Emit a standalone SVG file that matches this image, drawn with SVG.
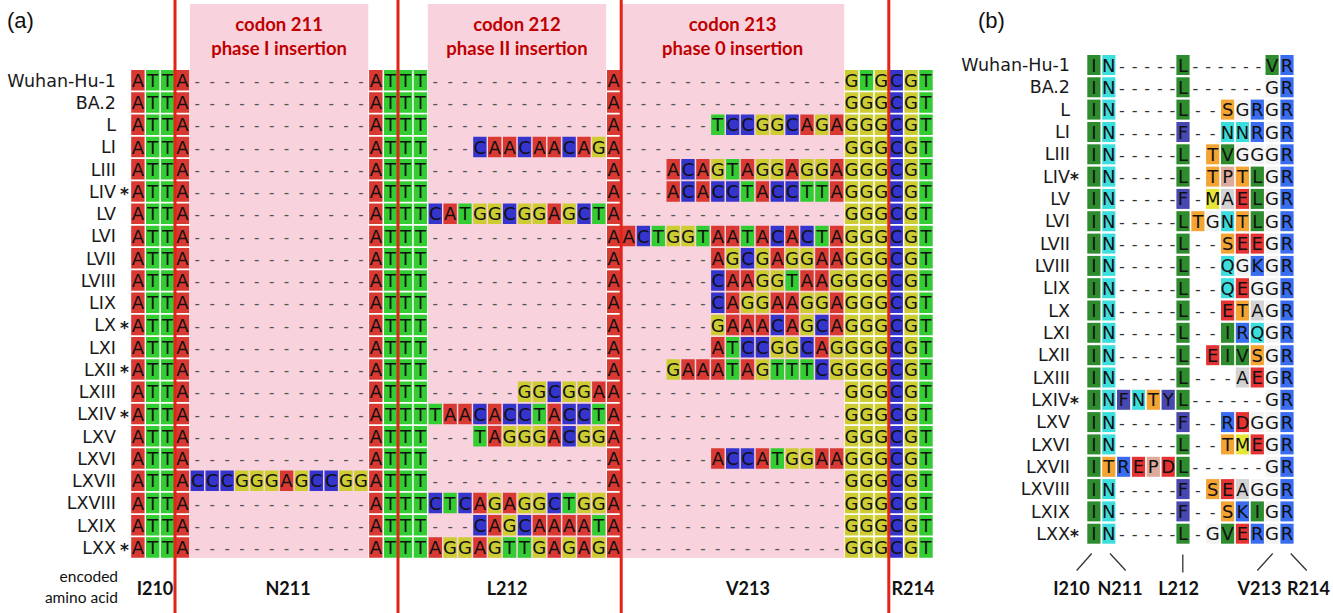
<svg xmlns="http://www.w3.org/2000/svg" xmlns:xlink="http://www.w3.org/1999/xlink" width="1333" height="613" viewBox="0 0 1333 613">
<style>
.nm{font-family:"DejaVu Sans",sans-serif;font-size:17.5px;fill:#1a1a1a;text-anchor:end}
.st{font-family:"DejaVu Sans",sans-serif;font-size:17px;font-weight:bold;fill:#1a1a1a}
.nt{font-family:"DejaVu Sans",sans-serif;font-size:18px;fill:#111;text-anchor:middle}
.gp{fill:#555;font-size:15px}
.bgp{fill:#333;font-size:16px}
.lab{font-family:Lato,"Open Sans",sans-serif;font-weight:700;font-size:18px;fill:#111;text-anchor:middle}
.cod{font-family:Lato,"Open Sans",sans-serif;font-weight:700;font-size:18.5px;fill:#c00000;text-anchor:middle}
.enc{font-family:Lato,"Open Sans",sans-serif;font-size:15.5px;fill:#111;text-anchor:end}
.pl{font-family:"Liberation Sans",Arial,sans-serif;font-size:22px;fill:#111}
.pink{fill:#f8d3de}
.red{stroke:#e2231a;stroke-width:3}
.cn{stroke:#333;stroke-width:1.3;fill:none}
</style>
<defs>
<rect id="nA" width="13.4" height="20.5" fill="#d83a33"/>
<rect id="nT" width="13.4" height="20.5" fill="#33cc33"/>
<rect id="nC" width="13.4" height="20.5" fill="#3535cc"/>
<rect id="nG" width="13.4" height="20.5" fill="#cdcd33"/>
<g id="constA">
<use href="#nA" x="131.2"/><use href="#nT" x="146.0"/><use href="#nT" x="160.9"/><use href="#nA" x="175.8"/>
<use href="#nA" x="369.1"/><use href="#nT" x="383.9"/><use href="#nT" x="398.8"/><use href="#nT" x="413.7"/>
<use href="#nA" x="607.0"/>
<use href="#nC" x="889.5"/><use href="#nG" x="904.4"/><use href="#nT" x="919.3"/>
</g>
<g id="GGG"><use href="#nG" x="844.9"/><use href="#nG" x="859.8"/><use href="#nG" x="874.7"/></g>
<rect id="p-gr" width="13.2" height="20" fill="#2e8b2e"/>
<rect id="p-cy" width="13.2" height="20" fill="#3ddddd"/>
<rect id="p-in" width="13.2" height="20" fill="#4848b0"/>
<rect id="p-or" width="13.2" height="20" fill="#f4a433"/>
<rect id="p-bl" width="13.2" height="20" fill="#3a6cf0"/>
<rect id="p-rd" width="13.2" height="20" fill="#e53333"/>
<rect id="p-pk" width="13.2" height="20" fill="#deaa9c"/>
<rect id="p-ye" width="13.2" height="20" fill="#e6e63a"/>
<rect id="p-gy" width="13.2" height="20" fill="#d3d3d3"/>
<rect id="p-wh" width="13.2" height="20" fill="#f3f3f3"/>
<g id="bBase"><use href="#p-gr" x="1087.3"/><use href="#p-cy" x="1102.2"/><use href="#p-bl" x="1280.4"/></g>
</defs>
<rect width="1333" height="613" fill="#fff"/>

<g id="panel-a-background">
<rect class="pink" x="189.9" y="4" width="178.4" height="554"/>
<rect class="pink" x="427.8" y="4" width="178.4" height="554"/>
<rect class="pink" x="621.1" y="4" width="223.1" height="554"/>
<text class="cod" x="279.1" y="31">codon 211</text>
<text class="cod" x="279.1" y="55">phase I insertion</text>
<text class="cod" x="517" y="31">codon 212</text>
<text class="cod" x="517" y="55">phase II insertion</text>
<text class="cod" x="732.6" y="31">codon 213</text>
<text class="cod" x="732.6" y="55">phase 0 insertion</text>
</g>
<text class="pl" x="7" y="28">(a)</text>
<text class="pl" x="978" y="28">(b)</text>

<g id="panel-a">
<g id="a-Wuhan-Hu-1" transform="translate(0,70)">
<text class="nm" x="116" y="16.5">Wuhan-Hu-1</text>
<use href="#constA"/><use href="#nG" x="844.9"/><use href="#nT" x="859.8"/><use href="#nG" x="874.7"/>
<text class="nt" y="16.75"><tspan x="137.8 152.7 167.6 182.5">ATTA</tspan><tspan class="gp" x="197.3 212.2 227.1 241.9 256.8 271.7 286.5 301.4 316.3 331.2 346.0 360.9">------------</tspan><tspan x="375.8 390.6 405.5 420.4">ATTT</tspan><tspan class="gp" x="435.2 450.1 465.0 479.9 494.7 509.6 524.5 539.3 554.2 569.1 583.9 598.8">------------</tspan><tspan x="613.7">A</tspan><tspan class="gp" x="628.6 643.4 658.3 673.2 688.0 702.9 717.8 732.6 747.5 762.4 777.3 792.1 807.0 821.9 836.7">---------------</tspan><tspan x="851.6 866.5 881.3 896.2 911.1 926.0">GTGCGT</tspan></text>
</g>
<g id="a-BA.2" transform="translate(0,92.25)">
<text class="nm" x="116" y="16.5">BA.2</text>
<use href="#constA"/><use href="#GGG"/>
<text class="nt" y="16.75"><tspan x="137.8 152.7 167.6 182.5">ATTA</tspan><tspan class="gp" x="197.3 212.2 227.1 241.9 256.8 271.7 286.5 301.4 316.3 331.2 346.0 360.9">------------</tspan><tspan x="375.8 390.6 405.5 420.4">ATTT</tspan><tspan class="gp" x="435.2 450.1 465.0 479.9 494.7 509.6 524.5 539.3 554.2 569.1 583.9 598.8">------------</tspan><tspan x="613.7">A</tspan><tspan class="gp" x="628.6 643.4 658.3 673.2 688.0 702.9 717.8 732.6 747.5 762.4 777.3 792.1 807.0 821.9 836.7">---------------</tspan><tspan x="851.6 866.5 881.3 896.2 911.1 926.0">GGGCGT</tspan></text>
</g>
<g id="a-L" transform="translate(0,114.5)">
<text class="nm" x="116" y="16.5">L</text>
<use href="#constA"/><use href="#GGG"/>
<use href="#nT" x="711.1"/><use href="#nC" x="726.0"/><use href="#nC" x="740.8"/><use href="#nG" x="755.7"/><use href="#nG" x="770.6"/><use href="#nC" x="785.4"/><use href="#nA" x="800.3"/><use href="#nG" x="815.2"/><use href="#nA" x="830.0"/>
<text class="nt" y="16.75"><tspan x="137.8 152.7 167.6 182.5">ATTA</tspan><tspan class="gp" x="197.3 212.2 227.1 241.9 256.8 271.7 286.5 301.4 316.3 331.2 346.0 360.9">------------</tspan><tspan x="375.8 390.6 405.5 420.4">ATTT</tspan><tspan class="gp" x="435.2 450.1 465.0 479.9 494.7 509.6 524.5 539.3 554.2 569.1 583.9 598.8">------------</tspan><tspan x="613.7">A</tspan><tspan class="gp" x="628.6 643.4 658.3 673.2 688.0 702.9">------</tspan><tspan x="717.8 732.6 747.5 762.4 777.3 792.1 807.0 821.9 836.7">TCCGGCAGA</tspan><tspan x="851.6 866.5 881.3 896.2 911.1 926.0">GGGCGT</tspan></text>
</g>
<g id="a-LI" transform="translate(0,136.75)">
<text class="nm" x="116" y="16.5">LI</text>
<use href="#constA"/><use href="#GGG"/>
<use href="#nC" x="473.2"/><use href="#nA" x="488.0"/><use href="#nA" x="502.9"/><use href="#nC" x="517.8"/><use href="#nA" x="532.6"/><use href="#nA" x="547.5"/><use href="#nC" x="562.4"/><use href="#nA" x="577.3"/><use href="#nG" x="592.1"/>
<text class="nt" y="16.75"><tspan x="137.8 152.7 167.6 182.5">ATTA</tspan><tspan class="gp" x="197.3 212.2 227.1 241.9 256.8 271.7 286.5 301.4 316.3 331.2 346.0 360.9">------------</tspan><tspan x="375.8 390.6 405.5 420.4">ATTT</tspan><tspan class="gp" x="435.2 450.1 465.0">---</tspan><tspan x="479.9 494.7 509.6 524.5 539.3 554.2 569.1 583.9 598.8">CAACAACAG</tspan><tspan x="613.7">A</tspan><tspan class="gp" x="628.6 643.4 658.3 673.2 688.0 702.9 717.8 732.6 747.5 762.4 777.3 792.1 807.0 821.9 836.7">---------------</tspan><tspan x="851.6 866.5 881.3 896.2 911.1 926.0">GGGCGT</tspan></text>
</g>
<g id="a-LIII" transform="translate(0,159)">
<text class="nm" x="116" y="16.5">LIII</text>
<use href="#constA"/><use href="#GGG"/>
<use href="#nA" x="666.5"/><use href="#nC" x="681.3"/><use href="#nA" x="696.2"/><use href="#nG" x="711.1"/><use href="#nT" x="726.0"/><use href="#nA" x="740.8"/><use href="#nG" x="755.7"/><use href="#nG" x="770.6"/><use href="#nA" x="785.4"/><use href="#nG" x="800.3"/><use href="#nG" x="815.2"/><use href="#nA" x="830.0"/>
<text class="nt" y="16.75"><tspan x="137.8 152.7 167.6 182.5">ATTA</tspan><tspan class="gp" x="197.3 212.2 227.1 241.9 256.8 271.7 286.5 301.4 316.3 331.2 346.0 360.9">------------</tspan><tspan x="375.8 390.6 405.5 420.4">ATTT</tspan><tspan class="gp" x="435.2 450.1 465.0 479.9 494.7 509.6 524.5 539.3 554.2 569.1 583.9 598.8">------------</tspan><tspan x="613.7">A</tspan><tspan class="gp" x="628.6 643.4 658.3">---</tspan><tspan x="673.2 688.0 702.9 717.8 732.6 747.5 762.4 777.3 792.1 807.0 821.9 836.7">ACAGTAGGAGGA</tspan><tspan x="851.6 866.5 881.3 896.2 911.1 926.0">GGGCGT</tspan></text>
</g>
<g id="a-LIV" transform="translate(0,181.25)">
<text class="nm" x="116" y="16.5">LIV</text><text class="st" x="120" y="19">*</text>
<use href="#constA"/><use href="#GGG"/>
<use href="#nA" x="666.5"/><use href="#nC" x="681.3"/><use href="#nA" x="696.2"/><use href="#nC" x="711.1"/><use href="#nC" x="726.0"/><use href="#nT" x="740.8"/><use href="#nA" x="755.7"/><use href="#nC" x="770.6"/><use href="#nC" x="785.4"/><use href="#nT" x="800.3"/><use href="#nT" x="815.2"/><use href="#nA" x="830.0"/>
<text class="nt" y="16.75"><tspan x="137.8 152.7 167.6 182.5">ATTA</tspan><tspan class="gp" x="197.3 212.2 227.1 241.9 256.8 271.7 286.5 301.4 316.3 331.2 346.0 360.9">------------</tspan><tspan x="375.8 390.6 405.5 420.4">ATTT</tspan><tspan class="gp" x="435.2 450.1 465.0 479.9 494.7 509.6 524.5 539.3 554.2 569.1 583.9 598.8">------------</tspan><tspan x="613.7">A</tspan><tspan class="gp" x="628.6 643.4 658.3">---</tspan><tspan x="673.2 688.0 702.9 717.8 732.6 747.5 762.4 777.3 792.1 807.0 821.9 836.7">ACACCTACCTTA</tspan><tspan x="851.6 866.5 881.3 896.2 911.1 926.0">GGGCGT</tspan></text>
</g>
<g id="a-LV" transform="translate(0,203.5)">
<text class="nm" x="116" y="16.5">LV</text>
<use href="#constA"/><use href="#GGG"/>
<use href="#nC" x="428.6"/><use href="#nA" x="443.4"/><use href="#nT" x="458.3"/><use href="#nG" x="473.2"/><use href="#nG" x="488.0"/><use href="#nC" x="502.9"/><use href="#nG" x="517.8"/><use href="#nG" x="532.6"/><use href="#nA" x="547.5"/><use href="#nG" x="562.4"/><use href="#nC" x="577.3"/><use href="#nT" x="592.1"/>
<text class="nt" y="16.75"><tspan x="137.8 152.7 167.6 182.5">ATTA</tspan><tspan class="gp" x="197.3 212.2 227.1 241.9 256.8 271.7 286.5 301.4 316.3 331.2 346.0 360.9">------------</tspan><tspan x="375.8 390.6 405.5 420.4">ATTT</tspan><tspan x="435.2 450.1 465.0 479.9 494.7 509.6 524.5 539.3 554.2 569.1 583.9 598.8">CATGGCGGAGCT</tspan><tspan x="613.7">A</tspan><tspan class="gp" x="628.6 643.4 658.3 673.2 688.0 702.9 717.8 732.6 747.5 762.4 777.3 792.1 807.0 821.9 836.7">---------------</tspan><tspan x="851.6 866.5 881.3 896.2 911.1 926.0">GGGCGT</tspan></text>
</g>
<g id="a-LVI" transform="translate(0,225.75)">
<text class="nm" x="116" y="16.5">LVI</text>
<use href="#constA"/><use href="#GGG"/>
<use href="#nA" x="621.9"/><use href="#nC" x="636.7"/><use href="#nT" x="651.6"/><use href="#nG" x="666.5"/><use href="#nG" x="681.3"/><use href="#nT" x="696.2"/><use href="#nA" x="711.1"/><use href="#nA" x="726.0"/><use href="#nT" x="740.8"/><use href="#nA" x="755.7"/><use href="#nC" x="770.6"/><use href="#nA" x="785.4"/><use href="#nC" x="800.3"/><use href="#nT" x="815.2"/><use href="#nA" x="830.0"/>
<text class="nt" y="16.75"><tspan x="137.8 152.7 167.6 182.5">ATTA</tspan><tspan class="gp" x="197.3 212.2 227.1 241.9 256.8 271.7 286.5 301.4 316.3 331.2 346.0 360.9">------------</tspan><tspan x="375.8 390.6 405.5 420.4">ATTT</tspan><tspan class="gp" x="435.2 450.1 465.0 479.9 494.7 509.6 524.5 539.3 554.2 569.1 583.9 598.8">------------</tspan><tspan x="613.7">A</tspan><tspan x="628.6 643.4 658.3 673.2 688.0 702.9 717.8 732.6 747.5 762.4 777.3 792.1 807.0 821.9 836.7">ACTGGTAATACACTA</tspan><tspan x="851.6 866.5 881.3 896.2 911.1 926.0">GGGCGT</tspan></text>
</g>
<g id="a-LVII" transform="translate(0,248)">
<text class="nm" x="116" y="16.5">LVII</text>
<use href="#constA"/><use href="#GGG"/>
<use href="#nA" x="711.1"/><use href="#nG" x="726.0"/><use href="#nC" x="740.8"/><use href="#nG" x="755.7"/><use href="#nA" x="770.6"/><use href="#nG" x="785.4"/><use href="#nG" x="800.3"/><use href="#nA" x="815.2"/><use href="#nA" x="830.0"/>
<text class="nt" y="16.75"><tspan x="137.8 152.7 167.6 182.5">ATTA</tspan><tspan class="gp" x="197.3 212.2 227.1 241.9 256.8 271.7 286.5 301.4 316.3 331.2 346.0 360.9">------------</tspan><tspan x="375.8 390.6 405.5 420.4">ATTT</tspan><tspan class="gp" x="435.2 450.1 465.0 479.9 494.7 509.6 524.5 539.3 554.2 569.1 583.9 598.8">------------</tspan><tspan x="613.7">A</tspan><tspan class="gp" x="628.6 643.4 658.3 673.2 688.0 702.9">------</tspan><tspan x="717.8 732.6 747.5 762.4 777.3 792.1 807.0 821.9 836.7">AGCGAGGAA</tspan><tspan x="851.6 866.5 881.3 896.2 911.1 926.0">GGGCGT</tspan></text>
</g>
<g id="a-LVIII" transform="translate(0,270.25)">
<text class="nm" x="116" y="16.5">LVIII</text>
<use href="#constA"/><use href="#GGG"/>
<use href="#nC" x="711.1"/><use href="#nA" x="726.0"/><use href="#nA" x="740.8"/><use href="#nG" x="755.7"/><use href="#nG" x="770.6"/><use href="#nT" x="785.4"/><use href="#nA" x="800.3"/><use href="#nA" x="815.2"/><use href="#nG" x="830.0"/>
<text class="nt" y="16.75"><tspan x="137.8 152.7 167.6 182.5">ATTA</tspan><tspan class="gp" x="197.3 212.2 227.1 241.9 256.8 271.7 286.5 301.4 316.3 331.2 346.0 360.9">------------</tspan><tspan x="375.8 390.6 405.5 420.4">ATTT</tspan><tspan class="gp" x="435.2 450.1 465.0 479.9 494.7 509.6 524.5 539.3 554.2 569.1 583.9 598.8">------------</tspan><tspan x="613.7">A</tspan><tspan class="gp" x="628.6 643.4 658.3 673.2 688.0 702.9">------</tspan><tspan x="717.8 732.6 747.5 762.4 777.3 792.1 807.0 821.9 836.7">CAAGGTAAG</tspan><tspan x="851.6 866.5 881.3 896.2 911.1 926.0">GGGCGT</tspan></text>
</g>
<g id="a-LIX" transform="translate(0,292.5)">
<text class="nm" x="116" y="16.5">LIX</text>
<use href="#constA"/><use href="#GGG"/>
<use href="#nC" x="711.1"/><use href="#nA" x="726.0"/><use href="#nG" x="740.8"/><use href="#nG" x="755.7"/><use href="#nA" x="770.6"/><use href="#nA" x="785.4"/><use href="#nG" x="800.3"/><use href="#nG" x="815.2"/><use href="#nA" x="830.0"/>
<text class="nt" y="16.75"><tspan x="137.8 152.7 167.6 182.5">ATTA</tspan><tspan class="gp" x="197.3 212.2 227.1 241.9 256.8 271.7 286.5 301.4 316.3 331.2 346.0 360.9">------------</tspan><tspan x="375.8 390.6 405.5 420.4">ATTT</tspan><tspan class="gp" x="435.2 450.1 465.0 479.9 494.7 509.6 524.5 539.3 554.2 569.1 583.9 598.8">------------</tspan><tspan x="613.7">A</tspan><tspan class="gp" x="628.6 643.4 658.3 673.2 688.0 702.9">------</tspan><tspan x="717.8 732.6 747.5 762.4 777.3 792.1 807.0 821.9 836.7">CAGGAAGGA</tspan><tspan x="851.6 866.5 881.3 896.2 911.1 926.0">GGGCGT</tspan></text>
</g>
<g id="a-LX" transform="translate(0,314.75)">
<text class="nm" x="116" y="16.5">LX</text><text class="st" x="120" y="19">*</text>
<use href="#constA"/><use href="#GGG"/>
<use href="#nG" x="711.1"/><use href="#nA" x="726.0"/><use href="#nA" x="740.8"/><use href="#nA" x="755.7"/><use href="#nC" x="770.6"/><use href="#nA" x="785.4"/><use href="#nG" x="800.3"/><use href="#nC" x="815.2"/><use href="#nA" x="830.0"/>
<text class="nt" y="16.75"><tspan x="137.8 152.7 167.6 182.5">ATTA</tspan><tspan class="gp" x="197.3 212.2 227.1 241.9 256.8 271.7 286.5 301.4 316.3 331.2 346.0 360.9">------------</tspan><tspan x="375.8 390.6 405.5 420.4">ATTT</tspan><tspan class="gp" x="435.2 450.1 465.0 479.9 494.7 509.6 524.5 539.3 554.2 569.1 583.9 598.8">------------</tspan><tspan x="613.7">A</tspan><tspan class="gp" x="628.6 643.4 658.3 673.2 688.0 702.9">------</tspan><tspan x="717.8 732.6 747.5 762.4 777.3 792.1 807.0 821.9 836.7">GAAACAGCA</tspan><tspan x="851.6 866.5 881.3 896.2 911.1 926.0">GGGCGT</tspan></text>
</g>
<g id="a-LXI" transform="translate(0,337)">
<text class="nm" x="116" y="16.5">LXI</text>
<use href="#constA"/><use href="#GGG"/>
<use href="#nA" x="711.1"/><use href="#nT" x="726.0"/><use href="#nC" x="740.8"/><use href="#nC" x="755.7"/><use href="#nG" x="770.6"/><use href="#nG" x="785.4"/><use href="#nC" x="800.3"/><use href="#nA" x="815.2"/><use href="#nG" x="830.0"/>
<text class="nt" y="16.75"><tspan x="137.8 152.7 167.6 182.5">ATTA</tspan><tspan class="gp" x="197.3 212.2 227.1 241.9 256.8 271.7 286.5 301.4 316.3 331.2 346.0 360.9">------------</tspan><tspan x="375.8 390.6 405.5 420.4">ATTT</tspan><tspan class="gp" x="435.2 450.1 465.0 479.9 494.7 509.6 524.5 539.3 554.2 569.1 583.9 598.8">------------</tspan><tspan x="613.7">A</tspan><tspan class="gp" x="628.6 643.4 658.3 673.2 688.0 702.9">------</tspan><tspan x="717.8 732.6 747.5 762.4 777.3 792.1 807.0 821.9 836.7">ATCCGGCAG</tspan><tspan x="851.6 866.5 881.3 896.2 911.1 926.0">GGGCGT</tspan></text>
</g>
<g id="a-LXII" transform="translate(0,359.25)">
<text class="nm" x="116" y="16.5">LXII</text><text class="st" x="120" y="19">*</text>
<use href="#constA"/><use href="#GGG"/>
<use href="#nG" x="666.5"/><use href="#nA" x="681.3"/><use href="#nA" x="696.2"/><use href="#nA" x="711.1"/><use href="#nT" x="726.0"/><use href="#nA" x="740.8"/><use href="#nG" x="755.7"/><use href="#nT" x="770.6"/><use href="#nT" x="785.4"/><use href="#nT" x="800.3"/><use href="#nC" x="815.2"/><use href="#nG" x="830.0"/>
<text class="nt" y="16.75"><tspan x="137.8 152.7 167.6 182.5">ATTA</tspan><tspan class="gp" x="197.3 212.2 227.1 241.9 256.8 271.7 286.5 301.4 316.3 331.2 346.0 360.9">------------</tspan><tspan x="375.8 390.6 405.5 420.4">ATTT</tspan><tspan class="gp" x="435.2 450.1 465.0 479.9 494.7 509.6 524.5 539.3 554.2 569.1 583.9 598.8">------------</tspan><tspan x="613.7">A</tspan><tspan class="gp" x="628.6 643.4 658.3">---</tspan><tspan x="673.2 688.0 702.9 717.8 732.6 747.5 762.4 777.3 792.1 807.0 821.9 836.7">GAAATAGTTTCG</tspan><tspan x="851.6 866.5 881.3 896.2 911.1 926.0">GGGCGT</tspan></text>
</g>
<g id="a-LXIII" transform="translate(0,381.5)">
<text class="nm" x="116" y="16.5">LXIII</text>
<use href="#constA"/><use href="#GGG"/>
<use href="#nG" x="517.8"/><use href="#nG" x="532.6"/><use href="#nC" x="547.5"/><use href="#nG" x="562.4"/><use href="#nG" x="577.3"/><use href="#nA" x="592.1"/>
<text class="nt" y="16.75"><tspan x="137.8 152.7 167.6 182.5">ATTA</tspan><tspan class="gp" x="197.3 212.2 227.1 241.9 256.8 271.7 286.5 301.4 316.3 331.2 346.0 360.9">------------</tspan><tspan x="375.8 390.6 405.5 420.4">ATTT</tspan><tspan class="gp" x="435.2 450.1 465.0 479.9 494.7 509.6">------</tspan><tspan x="524.5 539.3 554.2 569.1 583.9 598.8">GGCGGA</tspan><tspan x="613.7">A</tspan><tspan class="gp" x="628.6 643.4 658.3 673.2 688.0 702.9 717.8 732.6 747.5 762.4 777.3 792.1 807.0 821.9 836.7">---------------</tspan><tspan x="851.6 866.5 881.3 896.2 911.1 926.0">GGGCGT</tspan></text>
</g>
<g id="a-LXIV" transform="translate(0,403.75)">
<text class="nm" x="116" y="16.5">LXIV</text><text class="st" x="120" y="19">*</text>
<use href="#constA"/><use href="#GGG"/>
<use href="#nT" x="428.6"/><use href="#nA" x="443.4"/><use href="#nA" x="458.3"/><use href="#nC" x="473.2"/><use href="#nA" x="488.0"/><use href="#nC" x="502.9"/><use href="#nC" x="517.8"/><use href="#nT" x="532.6"/><use href="#nA" x="547.5"/><use href="#nC" x="562.4"/><use href="#nC" x="577.3"/><use href="#nT" x="592.1"/>
<text class="nt" y="16.75"><tspan x="137.8 152.7 167.6 182.5">ATTA</tspan><tspan class="gp" x="197.3 212.2 227.1 241.9 256.8 271.7 286.5 301.4 316.3 331.2 346.0 360.9">------------</tspan><tspan x="375.8 390.6 405.5 420.4">ATTT</tspan><tspan x="435.2 450.1 465.0 479.9 494.7 509.6 524.5 539.3 554.2 569.1 583.9 598.8">TAACACCTACCT</tspan><tspan x="613.7">A</tspan><tspan class="gp" x="628.6 643.4 658.3 673.2 688.0 702.9 717.8 732.6 747.5 762.4 777.3 792.1 807.0 821.9 836.7">---------------</tspan><tspan x="851.6 866.5 881.3 896.2 911.1 926.0">GGGCGT</tspan></text>
</g>
<g id="a-LXV" transform="translate(0,426)">
<text class="nm" x="116" y="16.5">LXV</text>
<use href="#constA"/><use href="#GGG"/>
<use href="#nT" x="473.2"/><use href="#nA" x="488.0"/><use href="#nG" x="502.9"/><use href="#nG" x="517.8"/><use href="#nG" x="532.6"/><use href="#nA" x="547.5"/><use href="#nC" x="562.4"/><use href="#nG" x="577.3"/><use href="#nG" x="592.1"/>
<text class="nt" y="16.75"><tspan x="137.8 152.7 167.6 182.5">ATTA</tspan><tspan class="gp" x="197.3 212.2 227.1 241.9 256.8 271.7 286.5 301.4 316.3 331.2 346.0 360.9">------------</tspan><tspan x="375.8 390.6 405.5 420.4">ATTT</tspan><tspan class="gp" x="435.2 450.1 465.0">---</tspan><tspan x="479.9 494.7 509.6 524.5 539.3 554.2 569.1 583.9 598.8">TAGGGACGG</tspan><tspan x="613.7">A</tspan><tspan class="gp" x="628.6 643.4 658.3 673.2 688.0 702.9 717.8 732.6 747.5 762.4 777.3 792.1 807.0 821.9 836.7">---------------</tspan><tspan x="851.6 866.5 881.3 896.2 911.1 926.0">GGGCGT</tspan></text>
</g>
<g id="a-LXVI" transform="translate(0,448.25)">
<text class="nm" x="116" y="16.5">LXVI</text>
<use href="#constA"/><use href="#GGG"/>
<use href="#nA" x="711.1"/><use href="#nC" x="726.0"/><use href="#nC" x="740.8"/><use href="#nA" x="755.7"/><use href="#nT" x="770.6"/><use href="#nG" x="785.4"/><use href="#nG" x="800.3"/><use href="#nA" x="815.2"/><use href="#nA" x="830.0"/>
<text class="nt" y="16.75"><tspan x="137.8 152.7 167.6 182.5">ATTA</tspan><tspan class="gp" x="197.3 212.2 227.1 241.9 256.8 271.7 286.5 301.4 316.3 331.2 346.0 360.9">------------</tspan><tspan x="375.8 390.6 405.5 420.4">ATTT</tspan><tspan class="gp" x="435.2 450.1 465.0 479.9 494.7 509.6 524.5 539.3 554.2 569.1 583.9 598.8">------------</tspan><tspan x="613.7">A</tspan><tspan class="gp" x="628.6 643.4 658.3 673.2 688.0 702.9">------</tspan><tspan x="717.8 732.6 747.5 762.4 777.3 792.1 807.0 821.9 836.7">ACCATGGAA</tspan><tspan x="851.6 866.5 881.3 896.2 911.1 926.0">GGGCGT</tspan></text>
</g>
<g id="a-LXVII" transform="translate(0,470.5)">
<text class="nm" x="116" y="16.5">LXVII</text>
<use href="#constA"/><use href="#GGG"/>
<use href="#nC" x="190.6"/><use href="#nC" x="205.5"/><use href="#nC" x="220.4"/><use href="#nG" x="235.2"/><use href="#nG" x="250.1"/><use href="#nG" x="265.0"/><use href="#nA" x="279.9"/><use href="#nG" x="294.7"/><use href="#nC" x="309.6"/><use href="#nC" x="324.5"/><use href="#nG" x="339.3"/><use href="#nG" x="354.2"/>
<text class="nt" y="16.75"><tspan x="137.8 152.7 167.6 182.5">ATTA</tspan><tspan x="197.3 212.2 227.1 241.9 256.8 271.7 286.5 301.4 316.3 331.2 346.0 360.9">CCCGGGAGCCGG</tspan><tspan x="375.8 390.6 405.5 420.4">ATTT</tspan><tspan class="gp" x="435.2 450.1 465.0 479.9 494.7 509.6 524.5 539.3 554.2 569.1 583.9 598.8">------------</tspan><tspan x="613.7">A</tspan><tspan class="gp" x="628.6 643.4 658.3 673.2 688.0 702.9 717.8 732.6 747.5 762.4 777.3 792.1 807.0 821.9 836.7">---------------</tspan><tspan x="851.6 866.5 881.3 896.2 911.1 926.0">GGGCGT</tspan></text>
</g>
<g id="a-LXVIII" transform="translate(0,492.75)">
<text class="nm" x="116" y="16.5">LXVIII</text>
<use href="#constA"/><use href="#GGG"/>
<use href="#nC" x="428.6"/><use href="#nT" x="443.4"/><use href="#nC" x="458.3"/><use href="#nA" x="473.2"/><use href="#nG" x="488.0"/><use href="#nA" x="502.9"/><use href="#nG" x="517.8"/><use href="#nG" x="532.6"/><use href="#nC" x="547.5"/><use href="#nT" x="562.4"/><use href="#nG" x="577.3"/><use href="#nG" x="592.1"/>
<text class="nt" y="16.75"><tspan x="137.8 152.7 167.6 182.5">ATTA</tspan><tspan class="gp" x="197.3 212.2 227.1 241.9 256.8 271.7 286.5 301.4 316.3 331.2 346.0 360.9">------------</tspan><tspan x="375.8 390.6 405.5 420.4">ATTT</tspan><tspan x="435.2 450.1 465.0 479.9 494.7 509.6 524.5 539.3 554.2 569.1 583.9 598.8">CTCAGAGGCTGG</tspan><tspan x="613.7">A</tspan><tspan class="gp" x="628.6 643.4 658.3 673.2 688.0 702.9 717.8 732.6 747.5 762.4 777.3 792.1 807.0 821.9 836.7">---------------</tspan><tspan x="851.6 866.5 881.3 896.2 911.1 926.0">GGGCGT</tspan></text>
</g>
<g id="a-LXIX" transform="translate(0,515)">
<text class="nm" x="116" y="16.5">LXIX</text>
<use href="#constA"/><use href="#GGG"/>
<use href="#nC" x="473.2"/><use href="#nA" x="488.0"/><use href="#nG" x="502.9"/><use href="#nC" x="517.8"/><use href="#nA" x="532.6"/><use href="#nA" x="547.5"/><use href="#nA" x="562.4"/><use href="#nA" x="577.3"/><use href="#nT" x="592.1"/>
<text class="nt" y="16.75"><tspan x="137.8 152.7 167.6 182.5">ATTA</tspan><tspan class="gp" x="197.3 212.2 227.1 241.9 256.8 271.7 286.5 301.4 316.3 331.2 346.0 360.9">------------</tspan><tspan x="375.8 390.6 405.5 420.4">ATTT</tspan><tspan class="gp" x="435.2 450.1 465.0">---</tspan><tspan x="479.9 494.7 509.6 524.5 539.3 554.2 569.1 583.9 598.8">CAGCAAAAT</tspan><tspan x="613.7">A</tspan><tspan class="gp" x="628.6 643.4 658.3 673.2 688.0 702.9 717.8 732.6 747.5 762.4 777.3 792.1 807.0 821.9 836.7">---------------</tspan><tspan x="851.6 866.5 881.3 896.2 911.1 926.0">GGGCGT</tspan></text>
</g>
<g id="a-LXX" transform="translate(0,537.25)">
<text class="nm" x="116" y="16.5">LXX</text><text class="st" x="120" y="19">*</text>
<use href="#constA"/><use href="#GGG"/>
<use href="#nA" x="428.6"/><use href="#nG" x="443.4"/><use href="#nG" x="458.3"/><use href="#nA" x="473.2"/><use href="#nG" x="488.0"/><use href="#nT" x="502.9"/><use href="#nT" x="517.8"/><use href="#nG" x="532.6"/><use href="#nA" x="547.5"/><use href="#nG" x="562.4"/><use href="#nA" x="577.3"/><use href="#nG" x="592.1"/>
<text class="nt" y="16.75"><tspan x="137.8 152.7 167.6 182.5">ATTA</tspan><tspan class="gp" x="197.3 212.2 227.1 241.9 256.8 271.7 286.5 301.4 316.3 331.2 346.0 360.9">------------</tspan><tspan x="375.8 390.6 405.5 420.4">ATTT</tspan><tspan x="435.2 450.1 465.0 479.9 494.7 509.6 524.5 539.3 554.2 569.1 583.9 598.8">AGGAGTTGAGAG</tspan><tspan x="613.7">A</tspan><tspan class="gp" x="628.6 643.4 658.3 673.2 688.0 702.9 717.8 732.6 747.5 762.4 777.3 792.1 807.0 821.9 836.7">---------------</tspan><tspan x="851.6 866.5 881.3 896.2 911.1 926.0">GGGCGT</tspan></text>
</g>
</g>

<g id="codon-boundaries">
<line class="red" x1="175" y1="0" x2="175" y2="613"/>
<line class="red" x1="398" y1="0" x2="398" y2="613"/>
<line class="red" x1="621.2" y1="0" x2="621.2" y2="613"/>
<line class="red" x1="888.8" y1="0" x2="888.8" y2="613"/>
</g>

<g id="a-axis">
<text class="enc" x="118" y="582">encoded</text>
<text class="enc" x="118" y="603">amino acid</text>
<text class="lab" x="155" y="595">I210</text>
<text class="lab" x="288" y="595">N211</text>
<text class="lab" x="507" y="595">L212</text>
<text class="lab" x="748" y="595">V213</text>
<text class="lab" x="913" y="595">R214</text>
</g>

<g id="panel-b">
<g id="b-Wuhan-Hu-1" transform="translate(0,55)">
<text class="nm" x="1070" y="16.2">Wuhan-Hu-1</text>
<use href="#bBase"/><use href="#p-gr" x="1176.4"/><use href="#p-gr" x="1265.5"/>
<text class="nt" y="16.5"><tspan x="1093.9 1108.8">IN</tspan><tspan class="bgp" x="1122 1134.6 1147.2 1159.8 1172.4">-----</tspan><tspan x="1183.0">L</tspan><tspan class="bgp" x="1195.5 1208.1 1220.7 1233.3 1245.9 1258.5">------</tspan><tspan x="1272.1 1287.0">VR</tspan></text>
</g>
<g id="b-BA.2" transform="translate(0,77.3)">
<text class="nm" x="1070" y="16.2">BA.2</text>
<use href="#bBase"/><use href="#p-gr" x="1176.4"/><use href="#p-wh" x="1265.5"/>
<text class="nt" y="16.5"><tspan x="1093.9 1108.8">IN</tspan><tspan class="bgp" x="1122 1134.6 1147.2 1159.8 1172.4">-----</tspan><tspan x="1183.0">L</tspan><tspan class="bgp" x="1195.5 1208.1 1220.7 1233.3 1245.9 1258.5">------</tspan><tspan x="1272.1 1287.0">GR</tspan></text>
</g>
<g id="b-L" transform="translate(0,99.6)">
<text class="nm" x="1070" y="16.2">L</text>
<use href="#bBase"/><use href="#p-gr" x="1176.4"/><use href="#p-or" x="1221.0"/><use href="#p-wh" x="1235.8"/><use href="#p-bl" x="1250.7"/><use href="#p-wh" x="1265.5"/>
<text class="nt" y="16.5"><tspan x="1093.9 1108.8">IN</tspan><tspan class="bgp" x="1122 1134.6 1147.2 1159.8 1172.4">-----</tspan><tspan x="1183.0">L</tspan><tspan class="bgp" x="1197.9 1212.7">--</tspan><tspan x="1227.6 1242.4 1257.3 1272.1 1287.0">SGRGR</tspan></text>
</g>
<g id="b-LI" transform="translate(0,122)">
<text class="nm" x="1070" y="16.2">LI</text>
<use href="#bBase"/><use href="#p-in" x="1176.4"/><use href="#p-cy" x="1221.0"/><use href="#p-cy" x="1235.8"/><use href="#p-bl" x="1250.7"/><use href="#p-wh" x="1265.5"/>
<text class="nt" y="16.5"><tspan x="1093.9 1108.8">IN</tspan><tspan class="bgp" x="1122 1134.6 1147.2 1159.8 1172.4">-----</tspan><tspan x="1183.0">F</tspan><tspan class="bgp" x="1197.9 1212.7">--</tspan><tspan x="1227.6 1242.4 1257.3 1272.1 1287.0">NNRGR</tspan></text>
</g>
<g id="b-LIII" transform="translate(0,144.3)">
<text class="nm" x="1070" y="16.2">LIII</text>
<use href="#bBase"/><use href="#p-gr" x="1176.4"/><use href="#p-or" x="1206.1"/><use href="#p-gr" x="1221.0"/><use href="#p-wh" x="1235.8"/><use href="#p-wh" x="1250.7"/><use href="#p-wh" x="1265.5"/>
<text class="nt" y="16.5"><tspan x="1093.9 1108.8">IN</tspan><tspan class="bgp" x="1122 1134.6 1147.2 1159.8 1172.4">-----</tspan><tspan x="1183.0">L</tspan><tspan class="bgp" x="1197.9">-</tspan><tspan x="1212.7 1227.6 1242.4 1257.3 1272.1 1287.0">TVGGGR</tspan></text>
</g>
<g id="b-LIV" transform="translate(0,166.6)">
<text class="nm" x="1070" y="16.2">LIV</text><text class="st" x="1070" y="18.8">*</text>
<use href="#bBase"/><use href="#p-gr" x="1176.4"/><use href="#p-or" x="1206.1"/><use href="#p-pk" x="1221.0"/><use href="#p-or" x="1235.8"/><use href="#p-gr" x="1250.7"/><use href="#p-wh" x="1265.5"/>
<text class="nt" y="16.5"><tspan x="1093.9 1108.8">IN</tspan><tspan class="bgp" x="1122 1134.6 1147.2 1159.8 1172.4">-----</tspan><tspan x="1183.0">L</tspan><tspan class="bgp" x="1197.9">-</tspan><tspan x="1212.7 1227.6 1242.4 1257.3 1272.1 1287.0">TPTLGR</tspan></text>
</g>
<g id="b-LV" transform="translate(0,188.9)">
<text class="nm" x="1070" y="16.2">LV</text>
<use href="#bBase"/><use href="#p-in" x="1176.4"/><use href="#p-ye" x="1206.1"/><use href="#p-gy" x="1221.0"/><use href="#p-rd" x="1235.8"/><use href="#p-gr" x="1250.7"/><use href="#p-wh" x="1265.5"/>
<text class="nt" y="16.5"><tspan x="1093.9 1108.8">IN</tspan><tspan class="bgp" x="1122 1134.6 1147.2 1159.8 1172.4">-----</tspan><tspan x="1183.0">F</tspan><tspan class="bgp" x="1197.9">-</tspan><tspan x="1212.7 1227.6 1242.4 1257.3 1272.1 1287.0">MAELGR</tspan></text>
</g>
<g id="b-LVI" transform="translate(0,211.2)">
<text class="nm" x="1070" y="16.2">LVI</text>
<use href="#bBase"/><use href="#p-gr" x="1176.4"/><use href="#p-or" x="1191.3"/><use href="#p-wh" x="1206.1"/><use href="#p-cy" x="1221.0"/><use href="#p-or" x="1235.8"/><use href="#p-gr" x="1250.7"/><use href="#p-wh" x="1265.5"/>
<text class="nt" y="16.5"><tspan x="1093.9 1108.8">IN</tspan><tspan class="bgp" x="1122 1134.6 1147.2 1159.8 1172.4">-----</tspan><tspan x="1183.0 1197.9 1212.7 1227.6 1242.4 1257.3 1272.1 1287.0">LTGNTLGR</tspan></text>
</g>
<g id="b-LVII" transform="translate(0,233.6)">
<text class="nm" x="1070" y="16.2">LVII</text>
<use href="#bBase"/><use href="#p-gr" x="1176.4"/><use href="#p-or" x="1221.0"/><use href="#p-rd" x="1235.8"/><use href="#p-rd" x="1250.7"/><use href="#p-wh" x="1265.5"/>
<text class="nt" y="16.5"><tspan x="1093.9 1108.8">IN</tspan><tspan class="bgp" x="1122 1134.6 1147.2 1159.8 1172.4">-----</tspan><tspan x="1183.0">L</tspan><tspan class="bgp" x="1197.9 1212.7">--</tspan><tspan x="1227.6 1242.4 1257.3 1272.1 1287.0">SEEGR</tspan></text>
</g>
<g id="b-LVIII" transform="translate(0,255.9)">
<text class="nm" x="1070" y="16.2">LVIII</text>
<use href="#bBase"/><use href="#p-gr" x="1176.4"/><use href="#p-cy" x="1221.0"/><use href="#p-wh" x="1235.8"/><use href="#p-bl" x="1250.7"/><use href="#p-wh" x="1265.5"/>
<text class="nt" y="16.5"><tspan x="1093.9 1108.8">IN</tspan><tspan class="bgp" x="1122 1134.6 1147.2 1159.8 1172.4">-----</tspan><tspan x="1183.0">L</tspan><tspan class="bgp" x="1197.9 1212.7">--</tspan><tspan x="1227.6 1242.4 1257.3 1272.1 1287.0">QGKGR</tspan></text>
</g>
<g id="b-LIX" transform="translate(0,278.2)">
<text class="nm" x="1070" y="16.2">LIX</text>
<use href="#bBase"/><use href="#p-gr" x="1176.4"/><use href="#p-cy" x="1221.0"/><use href="#p-rd" x="1235.8"/><use href="#p-wh" x="1250.7"/><use href="#p-wh" x="1265.5"/>
<text class="nt" y="16.5"><tspan x="1093.9 1108.8">IN</tspan><tspan class="bgp" x="1122 1134.6 1147.2 1159.8 1172.4">-----</tspan><tspan x="1183.0">L</tspan><tspan class="bgp" x="1197.9 1212.7">--</tspan><tspan x="1227.6 1242.4 1257.3 1272.1 1287.0">QEGGR</tspan></text>
</g>
<g id="b-LX" transform="translate(0,300.5)">
<text class="nm" x="1070" y="16.2">LX</text>
<use href="#bBase"/><use href="#p-gr" x="1176.4"/><use href="#p-rd" x="1221.0"/><use href="#p-or" x="1235.8"/><use href="#p-gy" x="1250.7"/><use href="#p-wh" x="1265.5"/>
<text class="nt" y="16.5"><tspan x="1093.9 1108.8">IN</tspan><tspan class="bgp" x="1122 1134.6 1147.2 1159.8 1172.4">-----</tspan><tspan x="1183.0">L</tspan><tspan class="bgp" x="1197.9 1212.7">--</tspan><tspan x="1227.6 1242.4 1257.3 1272.1 1287.0">ETAGR</tspan></text>
</g>
<g id="b-LXI" transform="translate(0,322.8)">
<text class="nm" x="1070" y="16.2">LXI</text>
<use href="#bBase"/><use href="#p-gr" x="1176.4"/><use href="#p-gr" x="1221.0"/><use href="#p-bl" x="1235.8"/><use href="#p-cy" x="1250.7"/><use href="#p-wh" x="1265.5"/>
<text class="nt" y="16.5"><tspan x="1093.9 1108.8">IN</tspan><tspan class="bgp" x="1122 1134.6 1147.2 1159.8 1172.4">-----</tspan><tspan x="1183.0">L</tspan><tspan class="bgp" x="1197.9 1212.7">--</tspan><tspan x="1227.6 1242.4 1257.3 1272.1 1287.0">IRQGR</tspan></text>
</g>
<g id="b-LXII" transform="translate(0,345.2)">
<text class="nm" x="1070" y="16.2">LXII</text>
<use href="#bBase"/><use href="#p-gr" x="1176.4"/><use href="#p-rd" x="1206.1"/><use href="#p-gr" x="1221.0"/><use href="#p-gr" x="1235.8"/><use href="#p-or" x="1250.7"/><use href="#p-wh" x="1265.5"/>
<text class="nt" y="16.5"><tspan x="1093.9 1108.8">IN</tspan><tspan class="bgp" x="1122 1134.6 1147.2 1159.8 1172.4">-----</tspan><tspan x="1183.0">L</tspan><tspan class="bgp" x="1197.9">-</tspan><tspan x="1212.7 1227.6 1242.4 1257.3 1272.1 1287.0">EIVSGR</tspan></text>
</g>
<g id="b-LXIII" transform="translate(0,367.5)">
<text class="nm" x="1070" y="16.2">LXIII</text>
<use href="#bBase"/><use href="#p-gr" x="1176.4"/><use href="#p-gy" x="1235.8"/><use href="#p-rd" x="1250.7"/><use href="#p-wh" x="1265.5"/>
<text class="nt" y="16.5"><tspan x="1093.9 1108.8">IN</tspan><tspan class="bgp" x="1122 1134.6 1147.2 1159.8 1172.4">-----</tspan><tspan x="1183.0">L</tspan><tspan class="bgp" x="1197.9 1212.7 1227.6">---</tspan><tspan x="1242.4 1257.3 1272.1 1287.0">AEGR</tspan></text>
</g>
<g id="b-LXIV" transform="translate(0,389.8)">
<text class="nm" x="1070" y="16.2">LXIV</text><text class="st" x="1070" y="18.8">*</text>
<use href="#bBase"/><use href="#p-in" x="1117.0"/><use href="#p-cy" x="1131.9"/><use href="#p-or" x="1146.7"/><use href="#p-in" x="1161.6"/><use href="#p-gr" x="1176.4"/><use href="#p-wh" x="1265.5"/>
<text class="nt" y="16.5"><tspan x="1093.9 1108.8 1123.6 1138.5 1153.3 1168.2 1183.0">INFNTYL</tspan><tspan class="bgp" x="1195.5 1208.1 1220.7 1233.3 1245.9 1258.5">------</tspan><tspan x="1272.1 1287.0">GR</tspan></text>
</g>
<g id="b-LXV" transform="translate(0,412.1)">
<text class="nm" x="1070" y="16.2">LXV</text>
<use href="#bBase"/><use href="#p-in" x="1176.4"/><use href="#p-bl" x="1221.0"/><use href="#p-rd" x="1235.8"/><use href="#p-wh" x="1250.7"/><use href="#p-wh" x="1265.5"/>
<text class="nt" y="16.5"><tspan x="1093.9 1108.8">IN</tspan><tspan class="bgp" x="1122 1134.6 1147.2 1159.8 1172.4">-----</tspan><tspan x="1183.0">F</tspan><tspan class="bgp" x="1197.9 1212.7">--</tspan><tspan x="1227.6 1242.4 1257.3 1272.1 1287.0">RDGGR</tspan></text>
</g>
<g id="b-LXVI" transform="translate(0,434.4)">
<text class="nm" x="1070" y="16.2">LXVI</text>
<use href="#bBase"/><use href="#p-gr" x="1176.4"/><use href="#p-or" x="1221.0"/><use href="#p-ye" x="1235.8"/><use href="#p-rd" x="1250.7"/><use href="#p-wh" x="1265.5"/>
<text class="nt" y="16.5"><tspan x="1093.9 1108.8">IN</tspan><tspan class="bgp" x="1122 1134.6 1147.2 1159.8 1172.4">-----</tspan><tspan x="1183.0">L</tspan><tspan class="bgp" x="1197.9 1212.7">--</tspan><tspan x="1227.6 1242.4 1257.3 1272.1 1287.0">TMEGR</tspan></text>
</g>
<g id="b-LXVII" transform="translate(0,456.8)">
<text class="nm" x="1070" y="16.2">LXVII</text>
<use href="#p-gr" x="1087.3"/><use href="#p-or" x="1102.2"/><use href="#p-bl" x="1117.0"/><use href="#p-rd" x="1131.9"/><use href="#p-pk" x="1146.7"/><use href="#p-rd" x="1161.6"/><use href="#p-gr" x="1176.4"/><use href="#p-wh" x="1265.5"/><use href="#p-bl" x="1280.4"/>
<text class="nt" y="16.5"><tspan x="1093.9 1108.8 1123.6 1138.5 1153.3 1168.2 1183.0">ITREPDL</tspan><tspan class="bgp" x="1195.5 1208.1 1220.7 1233.3 1245.9 1258.5">------</tspan><tspan x="1272.1 1287.0">GR</tspan></text>
</g>
<g id="b-LXVIII" transform="translate(0,479.1)">
<text class="nm" x="1070" y="16.2">LXVIII</text>
<use href="#bBase"/><use href="#p-in" x="1176.4"/><use href="#p-or" x="1206.1"/><use href="#p-rd" x="1221.0"/><use href="#p-gy" x="1235.8"/><use href="#p-wh" x="1250.7"/><use href="#p-wh" x="1265.5"/>
<text class="nt" y="16.5"><tspan x="1093.9 1108.8">IN</tspan><tspan class="bgp" x="1122 1134.6 1147.2 1159.8 1172.4">-----</tspan><tspan x="1183.0">F</tspan><tspan class="bgp" x="1197.9">-</tspan><tspan x="1212.7 1227.6 1242.4 1257.3 1272.1 1287.0">SEAGGR</tspan></text>
</g>
<g id="b-LXIX" transform="translate(0,501.4)">
<text class="nm" x="1070" y="16.2">LXIX</text>
<use href="#bBase"/><use href="#p-in" x="1176.4"/><use href="#p-or" x="1221.0"/><use href="#p-bl" x="1235.8"/><use href="#p-gr" x="1250.7"/><use href="#p-wh" x="1265.5"/>
<text class="nt" y="16.5"><tspan x="1093.9 1108.8">IN</tspan><tspan class="bgp" x="1122 1134.6 1147.2 1159.8 1172.4">-----</tspan><tspan x="1183.0">F</tspan><tspan class="bgp" x="1197.9 1212.7">--</tspan><tspan x="1227.6 1242.4 1257.3 1272.1 1287.0">SKIGR</tspan></text>
</g>
<g id="b-LXX" transform="translate(0,523.7)">
<text class="nm" x="1070" y="16.2">LXX</text><text class="st" x="1070" y="18.8">*</text>
<use href="#bBase"/><use href="#p-gr" x="1176.4"/><use href="#p-wh" x="1206.1"/><use href="#p-gr" x="1221.0"/><use href="#p-rd" x="1235.8"/><use href="#p-bl" x="1250.7"/><use href="#p-wh" x="1265.5"/>
<text class="nt" y="16.5"><tspan x="1093.9 1108.8">IN</tspan><tspan class="bgp" x="1122 1134.6 1147.2 1159.8 1172.4">-----</tspan><tspan x="1183.0">L</tspan><tspan class="bgp" x="1197.9">-</tspan><tspan x="1212.7 1227.6 1242.4 1257.3 1272.1 1287.0">GVERGR</tspan></text>
</g>
</g>

<g id="connectors">
<line class="cn" x1="1091.7" y1="553.5" x2="1076.7" y2="570.5"/>
<line class="cn" x1="1110" y1="553.5" x2="1125.7" y2="570.5"/>
<line class="cn" x1="1182.8" y1="554.5" x2="1182.8" y2="572.5"/>
<line class="cn" x1="1272.7" y1="553.5" x2="1257.3" y2="570.5"/>
<line class="cn" x1="1290.7" y1="553.5" x2="1306.7" y2="570.5"/>
</g>
<g id="b-axis">
<text class="lab" x="1071.5" y="595">I210</text>
<text class="lab" x="1120" y="595">N211</text>
<text class="lab" x="1178.5" y="595">L212</text>
<text class="lab" x="1259.5" y="595">V213</text>
<text class="lab" x="1308.5" y="595">R214</text>
</g>
</svg>
